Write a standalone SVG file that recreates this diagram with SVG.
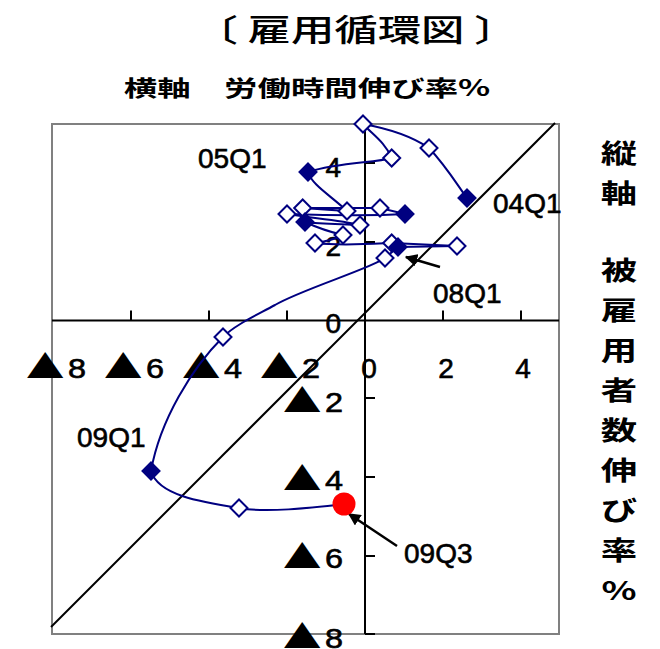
<svg xmlns="http://www.w3.org/2000/svg" width="660" height="649" viewBox="0 0 660 649">
<defs>
<marker id="ah" viewBox="0 0 10 10" refX="9" refY="5" markerWidth="5" markerHeight="5" orient="auto" markerUnits="strokeWidth">
<path d="M0,0 L10,5 L0,10 z" fill="#000"/>
</marker>
<path id="d" d="M0,-8.5 L8.5,0 L0,8.5 L-8.5,0 z"/>
</defs>
<style>
.t{font-family:"Liberation Sans","Noto Sans CJK JP",sans-serif;fill:#000;stroke:#000;stroke-width:0.6}
.j{font-family:"Noto Sans CJK JP",sans-serif;fill:#000}
.n{font-size:28px}
.tri{font-family:"Noto Sans CJK JP",sans-serif;font-size:32px;stroke-width:0}
.dg{font-size:27px}
.o{fill:#fff;stroke:#000080;stroke-width:2}
.f{fill:#000080;stroke:#000080;stroke-width:2}
.ax{stroke:#000;stroke-width:2;fill:none}
.v{font-family:"Noto Sans CJK JP",sans-serif;font-size:26px;font-weight:bold;text-anchor:middle;fill:#000}
</style>
<rect width="660" height="649" fill="#fff"/>
<g id="title">
<text class="j" transform="translate(356,41) scale(1.4,1)" font-size="31" font-weight="500" text-anchor="middle">〔 雇用循環図 〕</text>
<text class="j" transform="translate(307,96) scale(1.52,1)" font-size="22" font-weight="bold" text-anchor="middle">横軸　労働時間伸び率%</text>
</g>
<g id="ylabel">
<text class="v" transform="translate(619,163) scale(1.4,1)">縦</text>
<text class="v" transform="translate(619,203) scale(1.4,1)">軸</text>
<text class="v" transform="translate(619,280) scale(1.4,1)">被</text>
<text class="v" transform="translate(619,320) scale(1.4,1)">雇</text>
<text class="v" transform="translate(619,360) scale(1.4,1)">用</text>
<text class="v" transform="translate(619,400) scale(1.4,1)">者</text>
<text class="v" transform="translate(619,440) scale(1.4,1)">数</text>
<text class="v" transform="translate(619,480) scale(1.4,1)">伸</text>
<text class="v" transform="translate(619,520) scale(1.4,1)">び</text>
<text class="v" transform="translate(619,560) scale(1.4,1)">率</text>
<text class="v" transform="translate(619,600) scale(1.4,1)">%</text>
</g>
<g id="plot">
<rect x="52" y="124" width="507" height="510" fill="none" stroke="#808080" stroke-width="2"/>
<line class="ax" x1="51" y1="627" x2="555" y2="123"/>
<path class="ax" d="M52,320.5 H559 M365,124 V634"/>
<path class="ax" d="M131,320.5 v-10 M209,320.5 v-10 M287,320.5 v-10 M443,320.5 v-10 M521,320.5 v-10 M365,163 h10 M365,242 h10 M365,398 h10 M365,477 h10 M365,556 h10 M365,634 h10"/>
</g>
<g id="xticks" class="t n">
<text transform="translate(56,378) scale(1.2,1)" text-anchor="middle"><tspan class="tri">▲</tspan><tspan class="dg" dx="3">8</tspan></text>
<text transform="translate(134,378) scale(1.2,1)" text-anchor="middle"><tspan class="tri">▲</tspan><tspan class="dg" dx="3">6</tspan></text>
<text transform="translate(212,378) scale(1.2,1)" text-anchor="middle"><tspan class="tri">▲</tspan><tspan class="dg" dx="3">4</tspan></text>
<text transform="translate(290,378) scale(1.2,1)" text-anchor="middle"><tspan class="tri">▲</tspan><tspan class="dg" dx="3">2</tspan></text>
<text x="369" y="378" text-anchor="middle">0</text>
<text x="446" y="378" text-anchor="middle">2</text>
<text x="523" y="378" text-anchor="middle">4</text>
</g>
<g id="yticks" class="t n" text-anchor="end">
<text x="341" y="177">4</text>
<text x="341" y="256">2</text>
<text x="341" y="333">0</text>
<text transform="translate(343,412) scale(1.2,1)"><tspan class="tri">▲</tspan><tspan class="dg" dx="3">2</tspan></text>
<text transform="translate(343,490) scale(1.2,1)"><tspan class="tri">▲</tspan><tspan class="dg" dx="3">4</tspan></text>
<text transform="translate(343,568) scale(1.2,1)"><tspan class="tri">▲</tspan><tspan class="dg" dx="3">6</tspan></text>
<text transform="translate(343,648) scale(1.2,1)"><tspan class="tri">▲</tspan><tspan class="dg" dx="3">8</tspan></text>
</g>
<g id="connectors">
<path fill="none" stroke="#000080" stroke-width="2" d="M467,198 C458,186 446,166 429,148 C410,135 385,128 363,124 C372,134 385,142 391.7,158 C375,163 340,162 308,172 C312,185 330,195 347,211 L302.7,208 L380,208 L405,214 C370,216 320,215 287,214 C310,218 340,220 360,225 C340,224 320,224 305,222 C318,228 330,232 343,235 C333,240 323,242 315,243 C340,246 370,244 391.7,243 L457,246 L398,247 L385,258 C372,268 300,290 275,305 C255,316 235,325 223,337 C192,368 160,420 151,471 C158,495 200,502 239,508 C265,513 310,508 345,504"/>
<line x1="440" y1="267" x2="406" y2="257" stroke="#000" stroke-width="2.5" marker-end="url(#ah)"/>
<line x1="397" y1="546" x2="349" y2="514" stroke="#000" stroke-width="2.5" marker-end="url(#ah)"/>
</g>
<g id="points">
<use href="#d" class="f" x="467" y="198"/>
<use href="#d" class="o" x="429" y="148"/>
<use href="#d" class="o" x="363" y="124"/>
<use href="#d" class="o" x="391.7" y="158"/>
<use href="#d" class="f" x="308" y="172"/>
<use href="#d" class="o" x="347" y="211"/>
<use href="#d" class="o" x="302.7" y="208"/>
<use href="#d" class="o" x="380" y="208"/>
<use href="#d" class="f" x="405" y="214"/>
<use href="#d" class="o" x="287" y="214"/>
<use href="#d" class="o" x="360" y="225"/>
<use href="#d" class="f" x="305" y="222"/>
<use href="#d" class="o" x="343" y="235"/>
<use href="#d" class="o" x="315" y="243"/>
<use href="#d" class="o" x="391.7" y="243"/>
<use href="#d" class="o" x="457" y="246"/>
<use href="#d" class="f" x="398" y="247"/>
<use href="#d" class="o" x="385" y="258"/>
<use href="#d" class="o" x="223" y="337"/>
<use href="#d" class="f" x="151" y="471"/>
<use href="#d" class="o" x="239" y="508"/>
<circle cx="344" cy="504" r="11.5" fill="#ff0000"/>
</g>
<g id="labels" class="t n">
<text x="198" y="168">05Q1</text>
<text x="493" y="213">04Q1</text>
<text x="433" y="303">08Q1</text>
<text x="77" y="447">09Q1</text>
<text x="404" y="563">09Q3</text>
</g>
</svg>
